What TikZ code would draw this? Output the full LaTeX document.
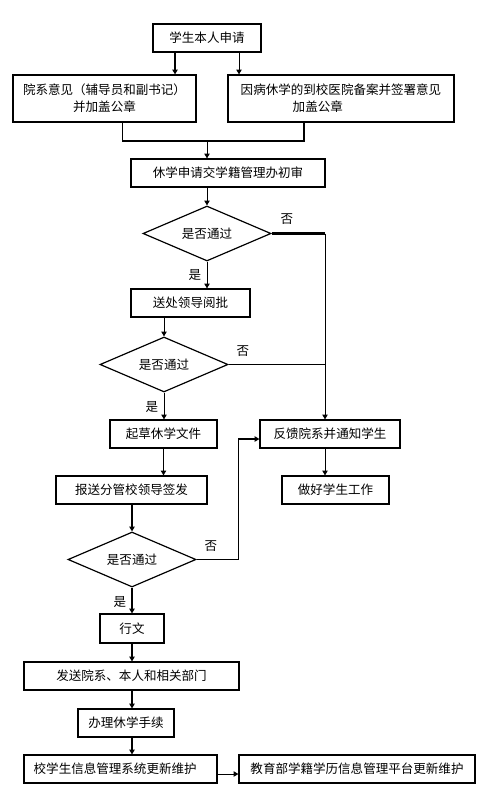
\documentclass[tikz,border=0pt]{standalone}
\usepackage{fontspec}
\setmainfont{Noto Sans CJK SC}
\usetikzlibrary{shapes.geometric,arrows.meta,calc}
\begin{document}
\begin{tikzpicture}[x=0.75pt,y=-0.75pt,
  every node/.style={font=\fontsize{9.4}{12.75}\selectfont},
  bx/.style 2 args={draw,line width=0.9pt,rectangle,inner sep=0pt,minimum width=#1*0.75pt,minimum height=#2*0.75pt},
  dm/.style={draw,line width=0.9pt,diamond,aspect=2.3,inner sep=0pt,minimum width=128*0.75pt,minimum height=55*0.75pt},
  lbl/.style={inner sep=0pt},
  thn/.style={line width=0.75pt},
  thk/.style={line width=1.6pt},
  arr/.style={-{Triangle[width=4pt,length=3.6pt]}}]
\useasboundingbox (0,0) rectangle (498,795);
% nodes
\node[bx={108}{28}] (b1) at (207,38) {学生本人申请};
\node[bx={183}{47},align=center] (b2) at (104.5,98.5) {院系意见（辅导员和副书记）\\并加盖公章};
\node[bx={226}{47},align=left] (b3) at (341,98.5) {因病休学的到校医院备案并签署意见\\\hspace*{39pt}加盖公章};
\node[bx={194}{28}] (b4) at (228,173) {休学申请交学籍管理办初审};
\node[dm] (d1) at (207,233.5) {是否通过};
\node[bx={119}{28}] (b5) at (190.5,303) {送处领导阅批};
\node[dm] (d2) at (164,364.5) {是否通过};
\node[bx={107}{28}] (b6) at (163.5,434) {起草休学文件};
\node[bx={140}{28}] (b7) at (330,434) {反馈院系并通知学生};
\node[bx={107}{28}] (b8) at (335.5,490) {做好学生工作};
\node[bx={151}{28}] (b9) at (131.5,490) {报送分管校领导签发};
\node[dm] (d3) at (132,559.5) {是否通过};
\node[bx={64}{29}] (b10) at (132,628.5) {行文};
\node[bx={215}{28}] (b11) at (131.5,676) {发送院系、本人和相关部门};
\node[bx={96}{28}] (b12) at (126,723) {办理休学手续};
\node[bx={193}{28}] (b13) at (120.5,769) {\hspace*{-8pt}校学生信息管理系统更新维护};
\node[bx={236}{28}] (b14) at (357,769) {教育部学籍学历信息管理平台更新维护};
% labels
\node[lbl] (n1) at (287,219) {否};
\node[lbl] (y1) at (195,275) {是};
\node[lbl] (n2) at (243,351) {否};
\node[lbl] (y2) at (152,407) {是};
\node[lbl] (n3) at (211,546) {否};
\node[lbl] (y3) at (120,602) {是};
% coordinates
\coordinate (j1) at (207,141);
\coordinate (vx) at ($(b7.north)+(-5,0)$);
\coordinate (k) at ($(b7.west)+(-21,5)$);
% connectors
\draw[thk,arr] ($(b1.south)+(-32,0)$) coordinate (t1) -- (t1 |- b2.north);
\draw[thn,arr] ($(b1.south)+(32,0)$) coordinate (t2) -- (t2 |- b3.north);
\draw[thn] ($(b2.south)+(17.5,0)$) coordinate (t3) -- (t3 |- j1);
\coordinate (t4) at ($(b3.south)+(-37,0)$);
\draw[thk] (t3 |- j1) -- (t4 |- j1) -- (t4);
\draw[thn,arr] (j1) -- (j1 |- b4.north);
\draw[thn,arr] (j1 |- b4.south) -- (d1.north);
\draw[thk] (d1.east) -- (d1.east -| vx);
\draw[thn,arr] (d1.east -| vx) -- (vx);
\draw[thn,arr] (d1.south) -- (d1.south |- b5.north);
\draw[thn,arr] (d2.north |- b5.south) -- (d2.north);
\draw[thn] (d2.east) -- (d2.east -| vx);
\draw[thn,arr] (d2.south) -- (d2.south |- b6.north);
\draw[thn,arr] (vx |- b7.south) -- (vx |- b8.north);
\draw[thn,arr] (b6.south) -- (b6.south |- b9.north);
\draw[thk,arr] (d3.north |- b9.south) -- (d3.north);
\draw[thn] (d3.east) -| (k);
\draw[thk,arr] (k) -- (k -| b7.west);
\draw[thk,arr] (d3.south) -- (d3.south |- b10.north);
\draw[thk,arr] (b10.south) -- (b10.south |- b11.north);
\draw[thk,arr] (b10.south |- b11.south) -- (b10.south |- b12.north);
\draw[thk,arr] (b10.south |- b12.south) -- (b10.south |- b13.north);
\draw[thn,arr] ($(b13.east)+(0,5)$) coordinate (t5) -- (t5 -| b14.west);
\end{tikzpicture}
\end{document}
